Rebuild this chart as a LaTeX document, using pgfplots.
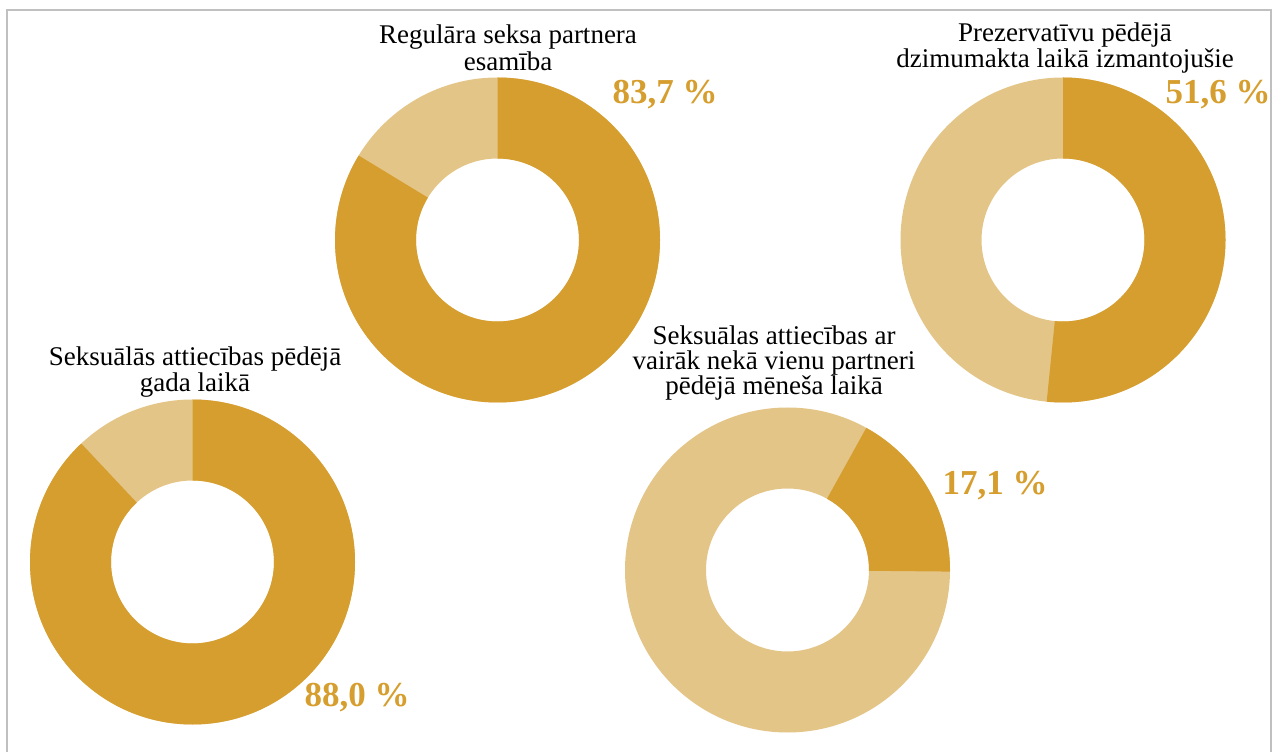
\documentclass[border=0pt]{standalone}
\usepackage{pgfplots}
\pgfplotsset{compat=1.18}
\usepackage{pgfplotstable}
\usepackage{fontspec}
\setmainfont{Liberation Serif}

\definecolor{darkgold}{RGB}{214,158,46}
\definecolor{lightgold}{RGB}{228,197,136}
\definecolor{framegray}{RGB}{192,192,192}

% donut centres (px, y up), share in percent, start angle clockwise from 12 o'clock
\pgfplotstableread{
x      y    pct   start
497.5  512  83.7  0
1063   512  51.6  0
192.5  190  88.0  0
787.5  182  17.1  29
}\donuts

\pgfdeclareplotmark{empty}{}

\newcommand{\drawdonut}{%
  \pgfsetfillcolor{lightgold}%
  \pgfpathcircle{\pgfpointorigin}{162.5pt}%
  \pgfpathcircle{\pgfpointorigin}{81.5pt}%
  \pgfseteorule
  \pgfusepath{fill}%
  \pgfsetnonzerorule
  \pgfmathsetmacro{\angA}{90-\donutst}%
  \pgfmathsetmacro{\angB}{90-\donutst-3.6*\donutpct}%
  \pgfsetfillcolor{darkgold}%
  \pgfpathmoveto{\pgfpointpolar{\angA}{162.5pt}}%
  \pgfpatharc{\angA}{\angB}{162.5pt}%
  \pgfpathlineto{\pgfpointpolar{\angB}{81.5pt}}%
  \pgfpatharc{\angB}{\angA}{81.5pt}%
  \pgfpathclose
  \pgfusepath{fill}%
}

\begin{document}
\begin{tikzpicture}
\begin{axis}[
  width=1272pt, height=752pt, scale only axis,
  xmin=0, xmax=1272, ymin=0, ymax=752,
  hide axis, clip=false,
]
\path (rel axis cs:0,0) rectangle (rel axis cs:1,1);
\draw[framegray, line width=2pt] (axis cs:7,0) -- (axis cs:7,742) -- (axis cs:1271,742) -- (axis cs:1271,0);

\addplot[scatter, only marks, mark=empty,
  visualization depends on={\thisrow{pct}\as\donutpct},
  visualization depends on={\thisrow{start}\as\donutst},
  scatter/@pre marker code/.code={\pgfscope\drawdonut},
  scatter/@post marker code/.code={\endpgfscope},
] table[x=x, y=y] {\donuts};

\tikzset{ttl/.style={align=center, inner sep=0pt, font=\fontsize{27}{26.5}\selectfont},
         pct/.style={text=darkgold, inner sep=0pt, font=\fontsize{35}{36}\selectfont\bfseries}}
\node[ttl] at (axis cs:508,704) {Regulāra seksa partnera\\esamība};
\node[ttl] at (axis cs:1065,704) {Prezervatīvu pēdējā\\dzimumakta laikā izmantojušie};
\node[ttl] at (axis cs:195,380) {Seksuālās attiecības pēdējā\\gada laikā};
\node[ttl, font=\fontsize{27}{25}\selectfont] at (axis cs:774,389) {Seksuālas attiecības ar\\vairāk nekā vienu partneri\\pēdējā mēneša laikā};

\node[pct] at (axis cs:665,657) {83,7 \%};
\node[pct] at (axis cs:1218,657) {51,6 \%};
\node[pct] at (axis cs:357,54) {88,0 \%};
\node[pct] at (axis cs:995,266) {17,1 \%};
\end{axis}
\end{tikzpicture}
\end{document}
